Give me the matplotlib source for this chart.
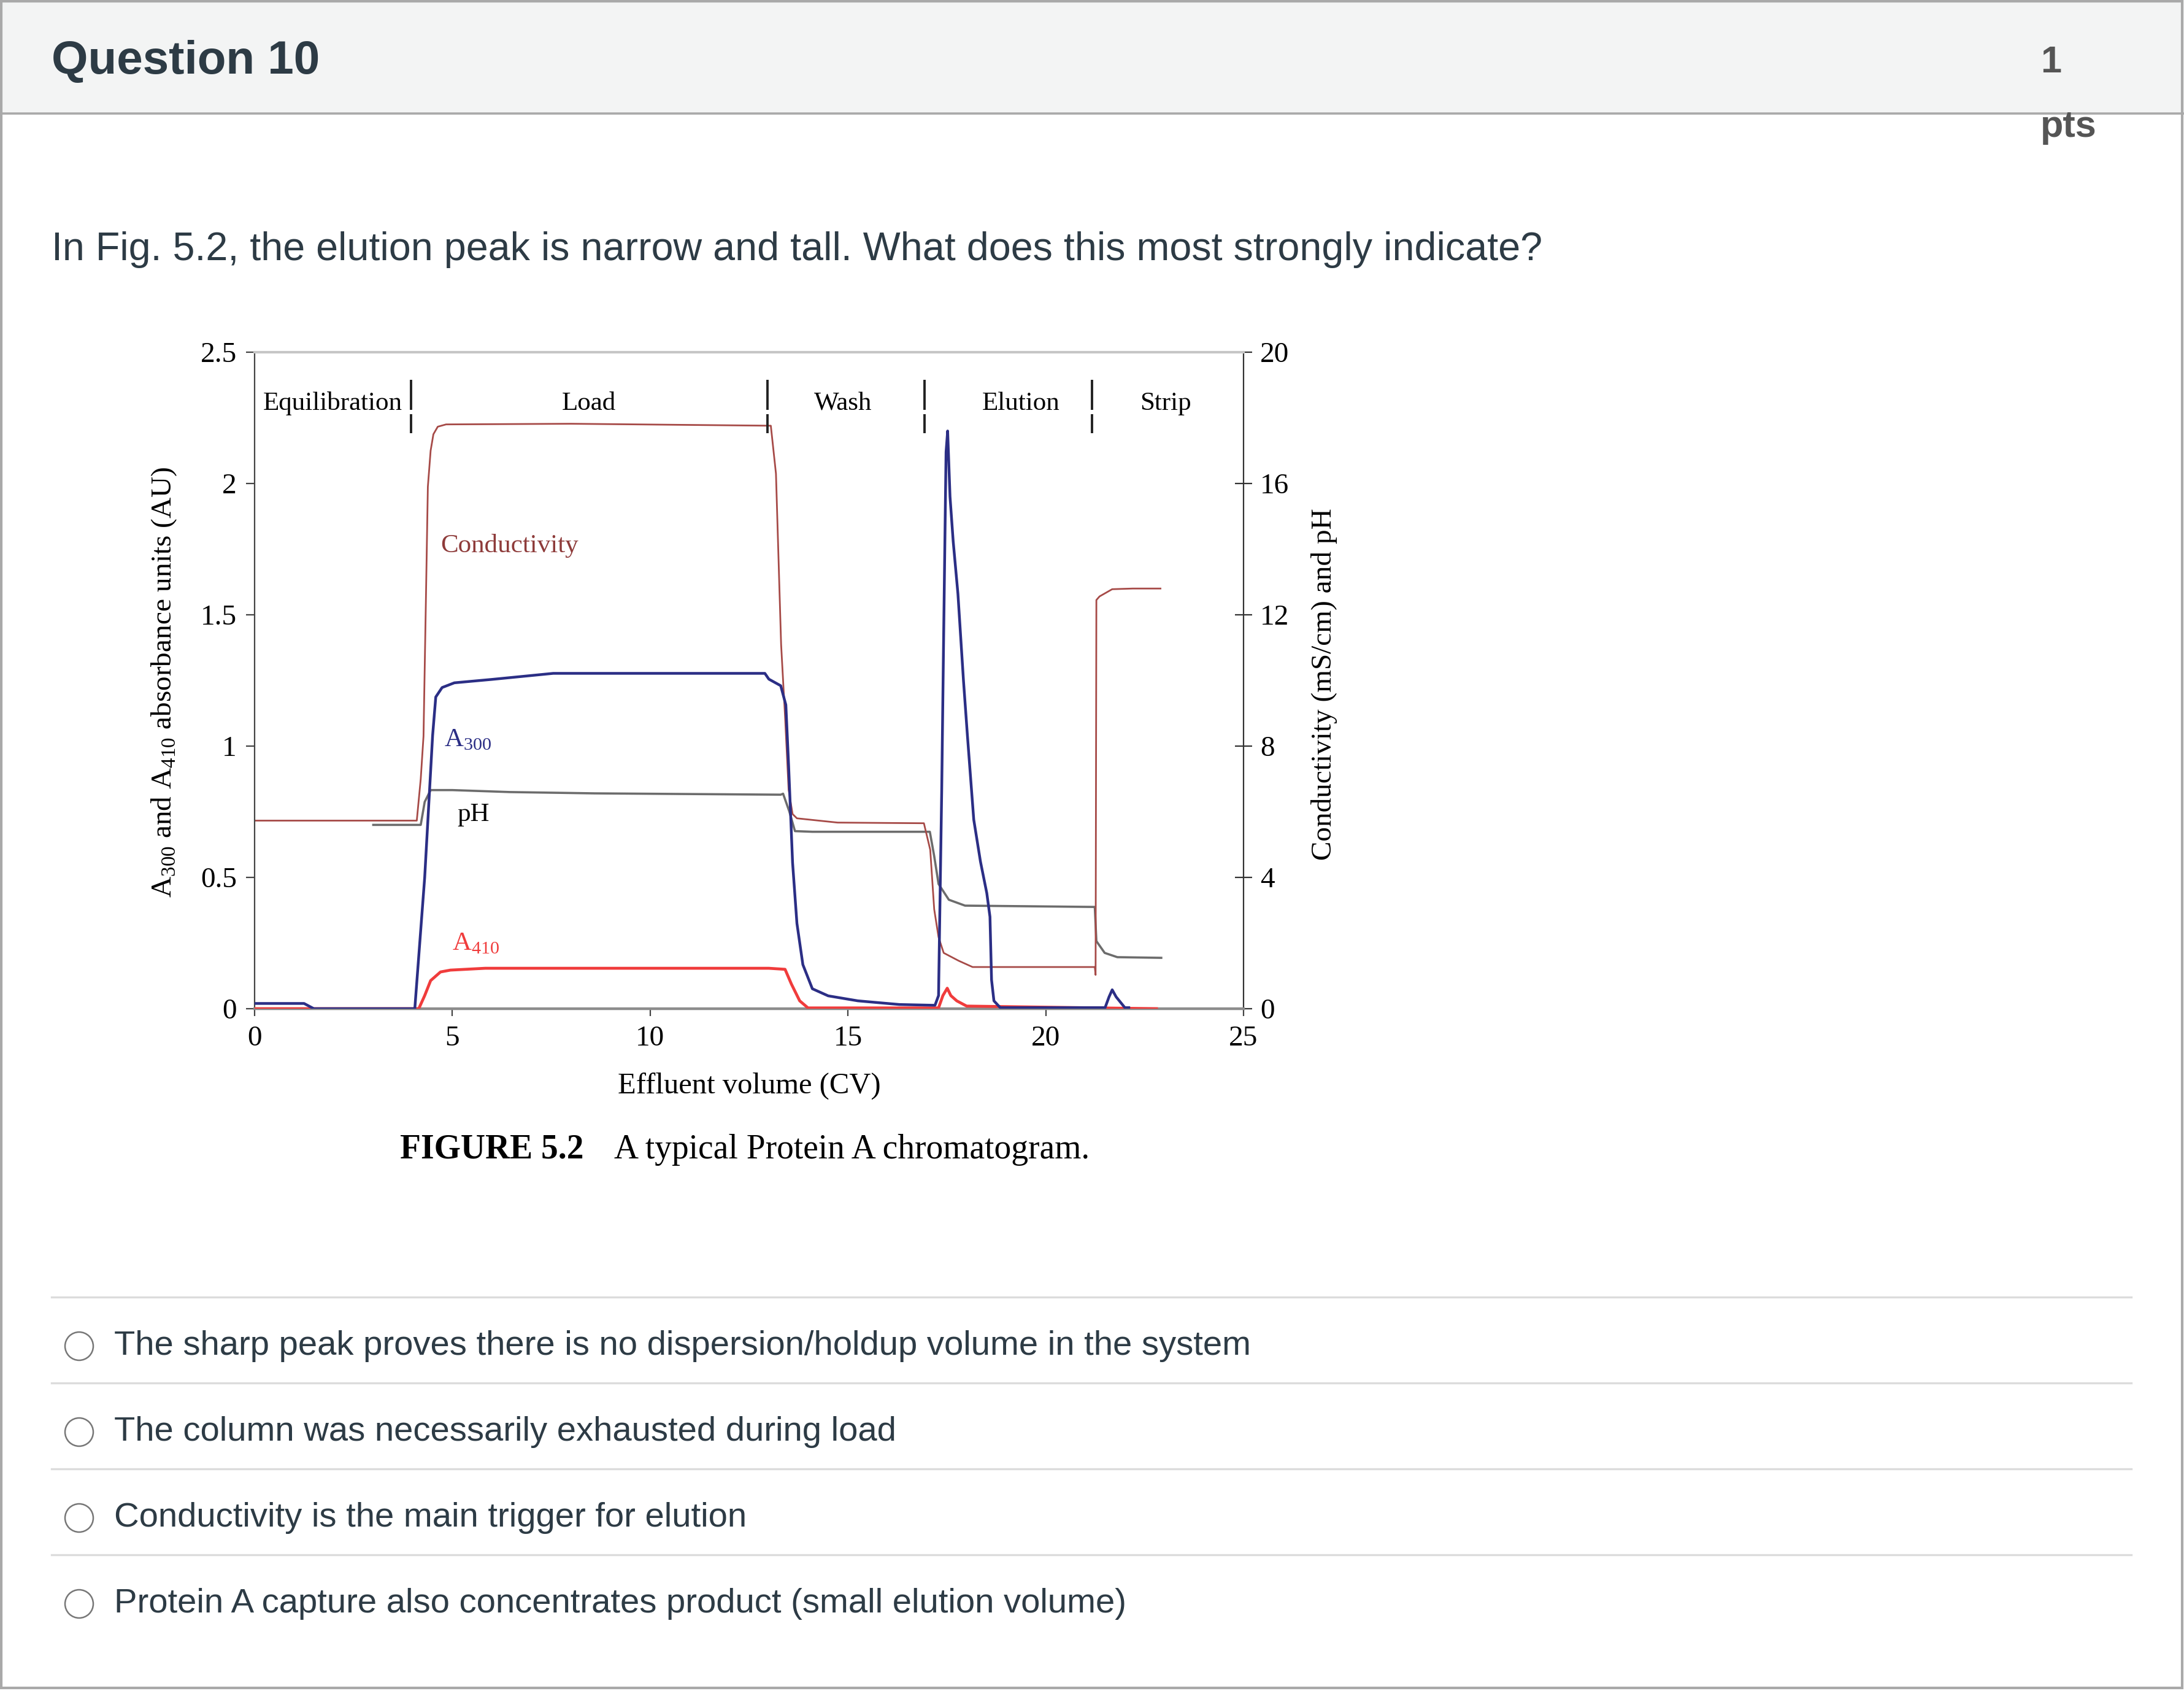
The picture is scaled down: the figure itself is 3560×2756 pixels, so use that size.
import matplotlib
matplotlib.use("Agg")
import matplotlib.pyplot as plt
from matplotlib.patches import Rectangle, Circle

# ---- chromatogram traces (x = effluent volume in CV) ----
cv_a300 = [0, 1.25, 1.5, 4.05, 4.3, 4.5, 4.58, 4.74, 5.05, 6.0, 7.55, 12.9, 13.0, 13.3,
           13.43, 13.5, 13.6, 13.71, 13.86, 14.1, 14.5, 15.25, 16.3, 17.2, 17.29, 17.37,
           17.42, 17.48, 17.52, 17.58, 17.66, 17.78, 17.92, 18.02, 18.18, 18.35, 18.51,
           18.59, 18.63, 18.69, 18.85, 21.5, 21.6, 21.68, 21.78, 22.0, 22.1]
a300 = [0.02, 0.02, 0.0, 0.0, 0.5, 1.04, 1.187, 1.223, 1.241, 1.254, 1.277, 1.277, 1.255,
        1.23, 1.157, 0.926, 0.556, 0.325, 0.168, 0.076, 0.049, 0.03, 0.016, 0.013, 0.05,
        0.83, 1.43, 2.12, 2.2, 1.95, 1.78, 1.58, 1.25, 1.04, 0.72, 0.56, 0.44, 0.35,
        0.11, 0.03, 0.004, 0.004, 0.045, 0.072, 0.045, 0.004, 0.004]

cv_a410 = [0, 4.15, 4.3, 4.45, 4.7, 4.95, 5.83, 13.0, 13.41, 13.57, 13.78, 13.99, 17.29,
           17.4, 17.51, 17.6, 17.75, 18.0, 22.8]
a410 = [0, 0, 0.05, 0.107, 0.14, 0.147, 0.154, 0.154, 0.15, 0.094, 0.03, 0.003, 0.003,
        0.05, 0.078, 0.05, 0.03, 0.01, 0.0]

cv_cond = [0, 4.1, 4.2, 4.27, 4.33, 4.38, 4.45, 4.52, 4.63, 4.84, 8, 13.05, 13.18, 13.31,
           13.41, 13.5, 13.6, 13.71, 14.74, 16.92, 17.08, 17.18, 17.29, 17.42, 17.8,
           18.15, 21.24, 21.26, 21.28, 21.36, 21.68, 22.2, 22.9]
cond = [5.73, 5.73, 7.0, 8.3, 12.4, 15.9, 17.0, 17.5, 17.73, 17.8, 17.82, 17.76, 16.3,
        11.1, 8.9, 6.67, 5.93, 5.8, 5.67, 5.65, 4.84, 3.03, 2.18, 1.7, 1.46, 1.27, 1.27,
        1.03, 12.45, 12.56, 12.78, 12.8, 12.8]

cv_ph = [3.0, 4.2, 4.3, 4.45, 5.0, 6.45, 8.6, 13.3, 13.36, 13.52, 13.66, 14.1, 17.07,
         17.18, 17.29, 17.55, 17.96, 21.24, 21.28, 21.49, 21.81, 22.92]
ph = [5.6, 5.6, 6.3, 6.66, 6.66, 6.6, 6.56, 6.52, 6.55, 6.0, 5.41, 5.39, 5.39, 4.65,
      3.8, 3.32, 3.14, 3.1, 2.06, 1.7, 1.57, 1.55]

phase_names = ["Equilibration", "Load", "Wash", "Elution", "Strip"]
phase_bounds = [3.955, 12.97, 16.93, 21.17]

x_ticks = [0, 5, 10, 15, 20, 25]
left_ticks = [0, 0.5, 1, 1.5, 2, 2.5]
left_tick_labels = ["0", "0.5", "1", "1.5", "2", "2.5"]
right_ticks = [0, 4, 8, 12, 16, 20]

question_title = "Question 10"
points = "1"
question = ("In Fig. 5.2, the elution peak is narrow and tall. "
            "What does this most strongly indicate?")
options = [
    "The sharp peak proves there is no dispersion/holdup volume in the system",
    "The column was necessarily exhausted during load",
    "Conductivity is the main trigger for elution",
    "Protein A capture also concentrates product (small elution volume)",
]

# ---- page layout (pixels) ----
W, H = 3560, 2756
plt.rcParams["font.family"] = ["Liberation Sans", "DejaVu Sans"]
SERIF = "Liberation Serif"
TXT = "#2d3b45"

fig = plt.figure(figsize=(W / 100, H / 100), dpi=100)
fig.patch.set_facecolor("white")

bg = fig.add_axes([0, 0, 1, 1])
bg.set_xlim(0, W)
bg.set_ylim(H, 0)
bg.axis("off")

# header band and borders
bg.add_patch(Rectangle((0, 0), W, 185, facecolor="#f3f4f4", edgecolor="none"))
bg.plot([0, W], [185, 185], color="#a9a9a9", lw=2.6)
bg.add_patch(Rectangle((2, 2), W - 5, H - 7, facecolor="none",
                       edgecolor="#a9a9a9", lw=3))

bg.text(84, 120, question_title, fontsize=55, fontweight="bold", color=TXT,
        va="baseline", ha="left")
bg.text(3326, 118, points, fontsize=44, fontweight="bold", color="#555555",
        va="baseline", ha="left")
bg.text(3326, 223, "pts", fontsize=44, fontweight="bold", color="#555555",
        va="baseline", ha="left")
bg.text(84, 424, question, fontsize=46.5, color=TXT, va="baseline", ha="left")

# answer list
for i, opt in enumerate(options):
    y_sep = 2114 + i * 140
    bg.plot([84, 3474], [y_sep, y_sep], color="#dcdcdc", lw=2.4)
    bg.add_patch(Circle((129, 2194 + i * 140), 23, facecolor="white",
                        edgecolor="#777777", lw=1.8))
    bg.text(186, 2208 + i * 140, opt, fontsize=40.5, color=TXT,
            va="baseline", ha="left")

# caption under the figure
bg.text(652, 1888, "FIGURE 5.2", fontsize=40, fontweight="bold", family=SERIF,
        color="black", va="baseline", ha="left")
bg.text(1001, 1888, "A typical Protein A chromatogram.", fontsize=40, family=SERIF,
        color="black", va="baseline", ha="left")

# ---- chromatogram ----
ax = fig.add_axes([415 / W, 1 - 1644 / H, 1612 / W, 1070 / H])
ax.set_xlim(0, 25)
ax.set_ylim(0, 2.5)
ax.patch.set_alpha(0)
ax2 = ax.twinx()
ax2.set_ylim(0, 20)

ax2.plot(cv_ph, ph, color="#6c6c6c", lw=2.6, zorder=2)
ax2.plot(cv_cond, cond, color="#a64a47", lw=2.0, zorder=3)
ax.plot(cv_a410, a410, color="#f03c3c", lw=3.4, zorder=3)
ax.plot(cv_a300, a300, color="#2b2e85", lw=3.2, zorder=4)
ax.set_zorder(ax2.get_zorder() + 1)

for s in ["top", "bottom", "left", "right"]:
    ax2.spines[s].set_visible(False)
ax.spines["right"].set_visible(False)
ax.spines["top"].set_color("#c6c6c6")
ax.spines["top"].set_linewidth(3)
ax.spines["bottom"].set_color("#8c8c8c")
ax.spines["bottom"].set_linewidth(3.2)
ax.spines["left"].set_color("#444444")
ax.spines["left"].set_linewidth(1.6)
ax2.spines["right"].set_visible(True)
ax2.spines["right"].set_color("#333333")
ax2.spines["right"].set_linewidth(1.6)

ax.set_xticks(x_ticks)
ax.set_xticklabels([str(t) for t in x_ticks])
ax.set_yticks(left_ticks)
ax.set_yticklabels(left_tick_labels)
ax2.set_yticks(right_ticks)
ax2.set_yticklabels([str(t) for t in right_ticks])

ax.tick_params(axis="x", direction="out", length=8.6, width=1.6, pad=11,
               color="#444444", labelsize=34)
ax.tick_params(axis="y", direction="out", length=10, width=1.6, pad=11,
               color="#444444", labelsize=34)
ax2.tick_params(axis="y", direction="inout", length=20, width=1.6, pad=9.5,
                color="#333333", labelsize=34)
for lab in ax.get_xticklabels() + ax.get_yticklabels() + ax2.get_yticklabels():
    lab.set_family(SERIF)

ax.set_xlabel("Effluent volume (CV)", family=SERIF, fontsize=35, va="baseline")
ax.xaxis.set_label_coords(0.5, (1644 - 1782) / 1070)
ax.set_ylabel(r"A$_{\mathregular{300}}$ and A$_{\mathregular{410}}$ absorbance units (AU)",
              family=SERIF, fontsize=34, va="center", ha="center")
ax.yaxis.set_label_coords((268 - 415) / 1612, 0.497)
ax2.set_ylabel("Conductivity (mS/cm) and pH", family=SERIF, fontsize=34,
               va="center", ha="center", rotation=90)
ax2.yaxis.set_label_coords((2158 - 415) / 1612, 0.494)

# phase boundaries (short broken markers) and names
for xb in phase_bounds:
    ax.plot([xb, xb], [2.281, 2.395], color="#222222", lw=2.8, solid_capstyle="butt")
    ax.plot([xb, xb], [2.192, 2.264], color="#222222", lw=2.8, solid_capstyle="butt")
for name, xc in zip(phase_names, [1.98, 8.45, 14.87, 19.38, 23.03]):
    ax.text(xc, 2.28, name, family=SERIF, fontsize=31, ha="center", va="baseline")

# trace labels
ax.text(4.70, 1.738, "Conductivity", family=SERIF, fontsize=31, color="#8e3b3a",
        ha="left", va="baseline")
ax.text(4.79, 1.0, r"A$_{\mathregular{300}}$", family=SERIF, fontsize=31,
        color="#2b2e85", ha="left", va="baseline")
ax.text(5.12, 0.716, "pH", family=SERIF, fontsize=31, color="black",
        ha="left", va="baseline")
ax.text(4.99, 0.224, r"A$_{\mathregular{410}}$", family=SERIF, fontsize=31,
        color="#f03c3c", ha="left", va="baseline")

fig.savefig("out.png", dpi=100)
